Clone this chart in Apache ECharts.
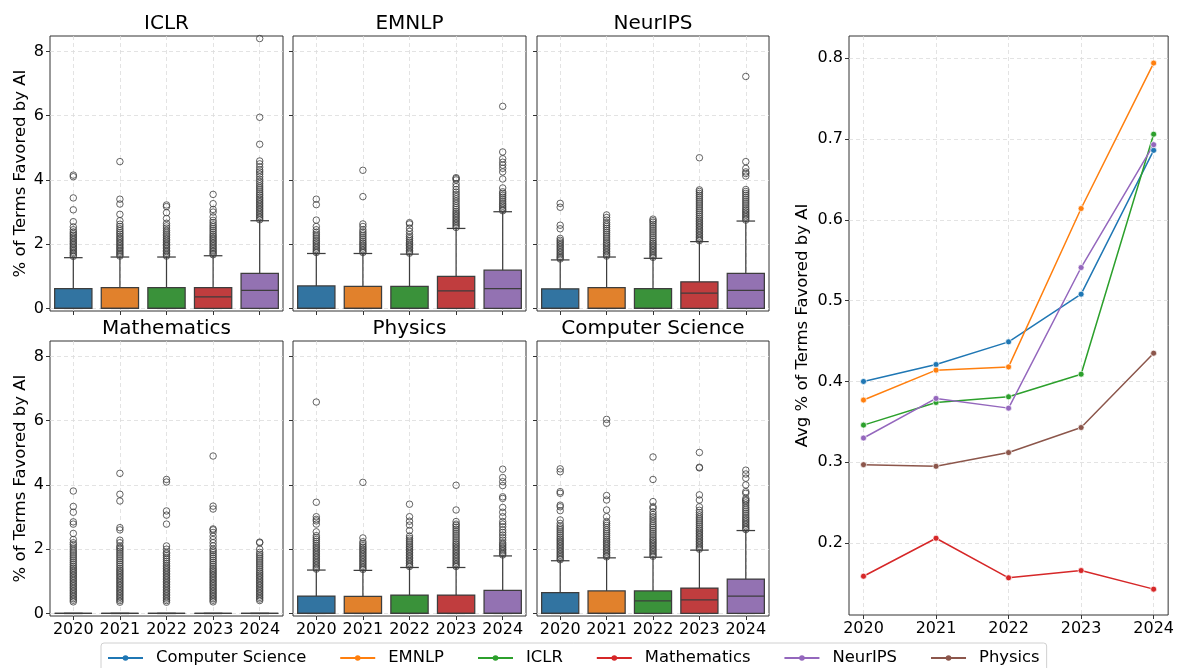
<!DOCTYPE html>
<html><head><meta charset="utf-8">
<script src="https://cdn.jsdelivr.net/npm/echarts@6/dist/echarts.min.js"></script>
<style>html,body{margin:0;padding:0;background:#fff}#c{width:1177px;height:668px}</style>
</head><body><div id="c"></div>
<script>
// ---------- data ----------
const years = ['2020', '2021', '2022', '2023', '2024'];
const yearNums = [2020, 2021, 2022, 2023, 2024];
const boxYTicks = [0, 2, 4, 6, 8];
const lineYTicks = [0.2, 0.3, 0.4, 0.5, 0.6, 0.7, 0.8];
const panelNames = ['ICLR', 'EMNLP', 'NeurIPS', 'Mathematics', 'Physics', 'Computer Science'];

// box stats per year: [lower whisker, Q1, median, Q3, upper whisker]
const iclrStats = [[0,0,0,0.62,1.58],[0,0,0,0.65,1.60],[0,0,0,0.65,1.60],[0,0,0.36,0.65,1.64],[0,0,0.56,1.09,2.73]];
const emnlpStats = [[0,0,0,0.70,1.71],[0,0,0,0.69,1.71],[0,0,0,0.69,1.69],[0,0,0.55,1.00,2.49],[0,0,0.62,1.19,3.01]];
const neuripsStats = [[0,0,0,0.61,1.51],[0,0,0,0.65,1.60],[0,0,0,0.62,1.56],[0,0,0.48,0.83,2.08],[0,0,0.56,1.09,2.72]];
const mathStats = [[0,0,0,0,0],[0,0,0,0,0],[0,0,0,0,0],[0,0,0,0,0],[0,0,0,0,0]];
const physicsStats = [[0,0,0,0.54,1.35],[0,0,0,0.53,1.34],[0,0,0,0.57,1.43],[0,0,0,0.57,1.43],[0,0,0,0.72,1.79]];
const csStats = [[0,0,0,0.65,1.64],[0,0,0,0.70,1.73],[0,0,0.39,0.70,1.75],[0,0,0.42,0.79,1.97],[0,0,0.54,1.07,2.58]];

// outliers per year
const iclrOut = [
  [1.62,1.66,1.71,1.75,1.8,1.85,1.89,1.94,1.99,2.03,2.08,2.13,2.18,2.23,2.28,2.33,2.38,2.45,2.54,2.7,3.07,3.44,4.1,4.15],
  [1.63,1.67,1.72,1.76,1.81,1.86,1.9,1.95,2.0,2.05,2.1,2.15,2.2,2.25,2.31,2.36,2.42,2.48,2.55,2.62,2.73,2.93,3.25,3.4,4.57],
  [1.63,1.67,1.72,1.77,1.81,1.86,1.91,1.96,2.0,2.05,2.1,2.15,2.2,2.26,2.31,2.37,2.43,2.5,2.57,2.65,2.8,2.98,3.17,3.22],
  [1.67,1.71,1.76,1.8,1.85,1.9,1.95,2.0,2.05,2.1,2.15,2.2,2.25,2.3,2.36,2.42,2.48,2.54,2.6,2.67,2.74,2.85,3.0,3.08,3.26,3.55],
  [2.76,2.81,2.86,2.91,2.96,3.01,3.06,3.11,3.16,3.21,3.26,3.31,3.36,3.41,3.46,3.52,3.57,3.63,3.69,3.75,3.81,3.88,3.95,4.02,4.1,4.18,4.25,4.31,4.4,4.5,4.59,5.11,5.95,8.4]
];
const emnlpOut = [
  [1.74,1.78,1.83,1.88,1.93,1.98,2.03,2.08,2.13,2.19,2.25,2.31,2.37,2.45,2.55,2.75,3.23,3.4],
  [1.74,1.78,1.83,1.88,1.93,1.98,2.03,2.08,2.14,2.2,2.26,2.32,2.38,2.45,2.55,2.63,3.48,4.3],
  [1.72,1.76,1.81,1.86,1.91,1.96,2.01,2.06,2.11,2.17,2.23,2.3,2.4,2.5,2.63,2.67],
  [2.52,2.57,2.62,2.67,2.72,2.77,2.82,2.87,2.92,2.97,3.02,3.08,3.14,3.2,3.27,3.34,3.41,3.48,3.55,3.62,3.7,3.79,3.88,4.0,4.04,4.07],
  [3.04,3.08,3.13,3.18,3.23,3.28,3.34,3.4,3.46,3.52,3.58,3.63,3.75,4.03,4.25,4.36,4.46,4.55,4.66,4.87,6.29]
];
const neuripsOut = [
  [1.54,1.58,1.62,1.67,1.72,1.77,1.82,1.87,1.92,1.97,2.02,2.07,2.12,2.18,2.48,2.59,3.15,3.27],
  [1.63,1.67,1.72,1.77,1.82,1.87,1.92,1.97,2.02,2.07,2.13,2.19,2.25,2.31,2.37,2.43,2.49,2.55,2.61,2.67,2.75,2.83,2.91],
  [1.59,1.63,1.68,1.73,1.78,1.83,1.88,1.93,1.98,2.03,2.08,2.14,2.2,2.26,2.32,2.38,2.44,2.5,2.56,2.62,2.68,2.73,2.78],
  [2.11,2.15,2.2,2.25,2.3,2.35,2.4,2.45,2.5,2.55,2.6,2.65,2.7,2.75,2.8,2.86,2.92,2.98,3.04,3.1,3.16,3.22,3.28,3.34,3.4,3.46,3.52,3.58,3.64,3.69,4.69],
  [2.75,2.8,2.85,2.9,2.95,3.0,3.05,3.1,3.16,3.22,3.28,3.34,3.4,3.46,3.52,3.58,3.64,3.7,4.12,4.2,4.25,4.36,4.57,7.22]
];
const mathOut = [
  [0.36,0.41,0.46,0.51,0.56,0.61,0.66,0.71,0.76,0.81,0.86,0.91,0.96,1.01,1.06,1.11,1.16,1.21,1.26,1.31,1.36,1.41,1.46,1.52,1.58,1.64,1.7,1.76,1.82,1.88,1.94,2.0,2.07,2.14,2.2,2.3,2.49,2.78,2.85,3.15,3.33,3.81],
  [0.35,0.4,0.45,0.5,0.55,0.6,0.65,0.7,0.75,0.8,0.85,0.9,0.95,1.0,1.05,1.1,1.15,1.2,1.25,1.3,1.35,1.4,1.46,1.52,1.58,1.64,1.7,1.76,1.82,1.88,1.94,2.0,2.05,2.1,2.2,2.28,2.6,2.67,3.5,3.71,4.36],
  [0.35,0.4,0.45,0.5,0.55,0.6,0.65,0.7,0.75,0.8,0.85,0.9,0.95,1.0,1.05,1.1,1.15,1.2,1.25,1.3,1.35,1.4,1.45,1.5,1.56,1.62,1.68,1.74,1.8,1.86,1.9,2.0,2.1,2.78,3.06,3.19,4.09,4.17],
  [0.36,0.41,0.46,0.51,0.56,0.61,0.66,0.71,0.76,0.81,0.86,0.91,0.96,1.01,1.06,1.11,1.16,1.21,1.26,1.31,1.36,1.41,1.47,1.53,1.59,1.65,1.71,1.77,1.83,1.89,1.95,2.0,2.1,2.2,2.3,2.4,2.52,2.6,2.63,3.25,3.34,4.9],
  [0.4,0.45,0.5,0.55,0.6,0.65,0.7,0.75,0.8,0.85,0.9,0.95,1.0,1.05,1.1,1.15,1.2,1.25,1.3,1.36,1.42,1.48,1.54,1.6,1.66,1.72,1.78,1.84,1.9,2.0,2.2,2.22]
];
const physicsOut = [
  [1.38,1.42,1.47,1.52,1.57,1.62,1.67,1.72,1.77,1.82,1.87,1.92,1.97,2.02,2.07,2.12,2.18,2.24,2.3,2.36,2.42,2.54,2.78,2.88,2.93,3.01,3.46,6.58],
  [1.37,1.41,1.46,1.51,1.56,1.61,1.66,1.71,1.76,1.81,1.86,1.91,1.96,2.01,2.06,2.11,2.17,2.23,2.35,4.08],
  [1.46,1.5,1.55,1.6,1.65,1.7,1.75,1.8,1.85,1.9,1.95,2.0,2.05,2.1,2.16,2.22,2.28,2.34,2.41,2.58,2.75,2.87,3.01,3.4],
  [1.46,1.5,1.55,1.6,1.65,1.7,1.75,1.8,1.85,1.9,1.95,2.0,2.05,2.1,2.15,2.2,2.26,2.32,2.38,2.44,2.5,2.56,2.62,2.68,2.74,2.78,2.86,3.22,3.99],
  [1.82,1.86,1.9,1.95,2.0,2.05,2.1,2.15,2.2,2.28,2.36,2.44,2.52,2.6,2.7,2.78,2.86,3.01,3.15,3.3,3.58,3.63,3.98,4.1,4.23,4.49]
];
const csOut = [
  [1.67,1.71,1.76,1.81,1.86,1.91,1.96,2.01,2.06,2.11,2.16,2.21,2.26,2.31,2.36,2.42,2.48,2.54,2.6,2.66,2.72,2.8,2.91,3.2,3.32,3.37,3.74,3.79,4.41,4.5],
  [1.76,1.8,1.85,1.9,1.95,2.0,2.05,2.1,2.15,2.2,2.25,2.3,2.36,2.42,2.48,2.54,2.6,2.67,2.74,2.8,2.86,3.01,3.22,3.53,3.67,5.92,6.04],
  [1.78,1.82,1.87,1.92,1.97,2.02,2.07,2.12,2.17,2.22,2.27,2.32,2.38,2.44,2.5,2.56,2.62,2.68,2.74,2.8,2.87,2.94,3.01,3.08,3.16,3.27,3.32,3.48,4.17,4.87],
  [2.0,2.04,2.09,2.14,2.19,2.24,2.29,2.34,2.39,2.44,2.49,2.54,2.59,2.64,2.7,2.76,2.82,2.88,2.94,3.0,3.07,3.14,3.21,3.32,3.53,3.69,4.53,4.55,5.01],
  [2.61,2.65,2.7,2.75,2.8,2.85,2.9,2.95,3.0,3.06,3.12,3.18,3.24,3.3,3.37,3.44,3.5,3.53,3.58,3.74,3.79,4.0,4.21,4.34,4.46]
];

// average line chart
const lineNames = ['Computer Science', 'EMNLP', 'ICLR', 'Mathematics', 'NeurIPS', 'Physics'];
const csAvg = [0.400, 0.421, 0.449, 0.508, 0.686];
const emnlpAvg = [0.377, 0.414, 0.418, 0.614, 0.794];
const iclrAvg = [0.346, 0.374, 0.381, 0.409, 0.706];
const mathAvg = [0.159, 0.206, 0.157, 0.166, 0.143];
const neuripsAvg = [0.330, 0.379, 0.367, 0.541, 0.693];
const physicsAvg = [0.297, 0.295, 0.312, 0.343, 0.435];

// ---------- styling ----------
const boxColors = ['#3274a1', '#e1812c', '#3a923a', '#c03d3e', '#9372b2'];
const lineColors = ['#1f77b4', '#ff7f0e', '#2ca02c', '#d62728', '#9467bd', '#8c564b'];
const FONT = 'DejaVu Sans';
const EDGE = '#3d3d3d';
const TICKFS = 16;

const panelStats = [iclrStats, emnlpStats, neuripsStats, mathStats, physicsStats, csStats];
const panelOut = [iclrOut, emnlpOut, neuripsOut, mathOut, physicsOut, csOut];
const lineData = [csAvg, emnlpAvg, iclrAvg, mathAvg, neuripsAvg, physicsAvg];

const panelLefts = [50, 293, 537];
const panelWidths = [233, 233, 232];
const panelTops = [36, 341];
const panelH = 275;

const grids = [], xAxes = [], yAxes = [], series = [], graphics = [];
const gridLine = { show: true, lineStyle: { color: '#dcdcdc', type: [4, 3], width: 0.8 } };
const tickStyle = { show: true, inside: false, length: 4, lineStyle: { color: '#333', width: 1 } };

for (let i = 0; i < 6; i++) {
  const row = Math.floor(i / 3), col = i % 3;
  grids.push({ left: panelLefts[col], top: panelTops[row], width: panelWidths[col], height: panelH,
    show: true, borderColor: '#333', borderWidth: 1, backgroundColor: 'transparent', containLabel: false });
  xAxes.push({
    type: 'value', gridIndex: i, min: -0.5, max: 4.5, position: 'bottom',
    axisLine: { show: false, onZero: false },
    axisTick: Object.assign({ customValues: [0, 1, 2, 3, 4] }, tickStyle),
    axisLabel: { show: row === 1, customValues: [0, 1, 2, 3, 4], formatter: v => years[Math.round(v)] || '',
      color: '#000', fontFamily: FONT, fontSize: TICKFS, margin: 6 },
    splitLine: gridLine
  });
  yAxes.push({
    type: 'value', gridIndex: i, min: -0.08, max: 8.48, position: 'left',
    name: col === 0 ? '% of Terms Favored by AI' : '',
    nameLocation: 'middle', nameGap: 21,
    nameTextStyle: { fontFamily: FONT, fontSize: 16.5, color: '#000' },
    axisLine: { show: false, onZero: false },
    axisTick: Object.assign({ customValues: boxYTicks }, tickStyle),
    axisLabel: { show: col === 0, customValues: boxYTicks, formatter: v => String(v),
      color: '#000', fontFamily: FONT, fontSize: TICKFS, margin: 6 },
    splitLine: gridLine
  });
  const stats = panelStats[i];
  series.push({
    type: 'custom', xAxisIndex: i, yAxisIndex: i, z: 3,
    data: stats.map((s, k) => [k, s[0], s[1], s[2], s[3], s[4]]),
    renderItem: function (params, api) {
      const k = api.value(0);
      const lo = api.value(1), q1 = api.value(2), med = api.value(3), q3 = api.value(4), hi = api.value(5);
      const pTop = api.coord([k, q3]), pBot = api.coord([k, q1]);
      const pHi = api.coord([k, hi]), pLo = api.coord([k, lo]), pMed = api.coord([k, med]);
      const w = api.size([0.8, 0])[0];
      const cx = pTop[0];
      const cap = w / 4;
      const lineS = { stroke: EDGE, lineWidth: 1.25, fill: null };
      return { type: 'group', children: [
        { type: 'line', shape: { x1: cx, y1: pTop[1], x2: cx, y2: pHi[1] }, style: lineS },
        { type: 'line', shape: { x1: cx - cap, y1: pHi[1], x2: cx + cap, y2: pHi[1] }, style: lineS },
        { type: 'line', shape: { x1: cx, y1: pBot[1], x2: cx, y2: pLo[1] }, style: lineS },
        { type: 'line', shape: { x1: cx - cap, y1: pLo[1], x2: cx + cap, y2: pLo[1] }, style: lineS },
        { type: 'rect', shape: { x: cx - w / 2, y: pTop[1], width: w, height: pBot[1] - pTop[1] },
          style: { fill: boxColors[k], stroke: EDGE, lineWidth: 1.25 } },
        { type: 'line', shape: { x1: cx - w / 2, y1: pMed[1], x2: cx + w / 2, y2: pMed[1] }, style: lineS }
      ] };
    }
  });
  const pts = [];
  panelOut[i].forEach((arr, k) => arr.forEach(v => pts.push([k, v])));
  series.push({
    type: 'scatter', xAxisIndex: i, yAxisIndex: i, z: 4, data: pts,
    symbol: 'circle', symbolSize: 6.5, silent: true,
    itemStyle: { color: 'rgba(0,0,0,0)', borderColor: '#3d3d3d', borderWidth: 1 }
  });
  graphics.push({ type: 'text', x: panelLefts[col] + panelWidths[col] / 2, y: row === 0 ? 24 : 329,
    style: { text: panelNames[i], fill: '#000', font: '20px "DejaVu Sans"', align: 'center', verticalAlign: 'middle' } });
}

// line chart
grids.push({ left: 849, top: 36, width: 320, height: 579, show: true, borderColor: '#333', borderWidth: 1 });
xAxes.push({
  type: 'value', gridIndex: 6, min: 2019.8, max: 2024.2, position: 'bottom',
  axisLine: { show: false, onZero: false },
  axisTick: Object.assign({ customValues: yearNums }, tickStyle),
  axisLabel: { customValues: yearNums, formatter: v => String(v), color: '#000', fontFamily: FONT, fontSize: TICKFS, margin: 6 },
  splitLine: gridLine
});
yAxes.push({
  type: 'value', gridIndex: 6, min: 0.111, max: 0.8275, position: 'left',
  name: 'Avg % of Terms Favored by AI', nameLocation: 'middle', nameGap: 38,
  nameTextStyle: { fontFamily: FONT, fontSize: 16.5, color: '#000' },
  axisLine: { show: false, onZero: false },
  axisTick: Object.assign({ customValues: lineYTicks }, tickStyle),
  axisLabel: { customValues: lineYTicks, formatter: v => v.toFixed(1), color: '#000', fontFamily: FONT, fontSize: TICKFS, margin: 6 },
  splitLine: gridLine
});
lineNames.forEach((n, j) => {
  series.push({
    type: 'line', name: n, xAxisIndex: 6, yAxisIndex: 6, z: 5,
    data: yearNums.map((y, k) => [y, lineData[j][k]]),
    symbol: 'circle', symbolSize: 6, showSymbol: true,
    lineStyle: { color: lineColors[j], width: 1.5 },
    itemStyle: { color: lineColors[j], borderColor: '#fff', borderWidth: 0.7 },
    emphasis: { disabled: true }
  });
});

const chart = echarts.init(document.getElementById('c'), null, { renderer: 'canvas' });
chart.setOption({
  animation: false,
  backgroundColor: '#fff',
  grid: grids, xAxis: xAxes, yAxis: yAxes, series: series,
  graphic: graphics,
  legend: {
    data: lineNames, left: 101, top: 643, orient: 'horizontal',
    itemGap: 33, itemWidth: 35, itemHeight: 7,
    padding: [7, 7, 8, 6], borderColor: '#d0d0d0', borderWidth: 1, borderRadius: 3,
    itemStyle: { borderWidth: 0 },
    textStyle: { fontFamily: FONT, fontSize: 16.4, color: '#000', padding: [0, 0, 0, 8] },
    selectedMode: false
  }
});
</script></body></html>
